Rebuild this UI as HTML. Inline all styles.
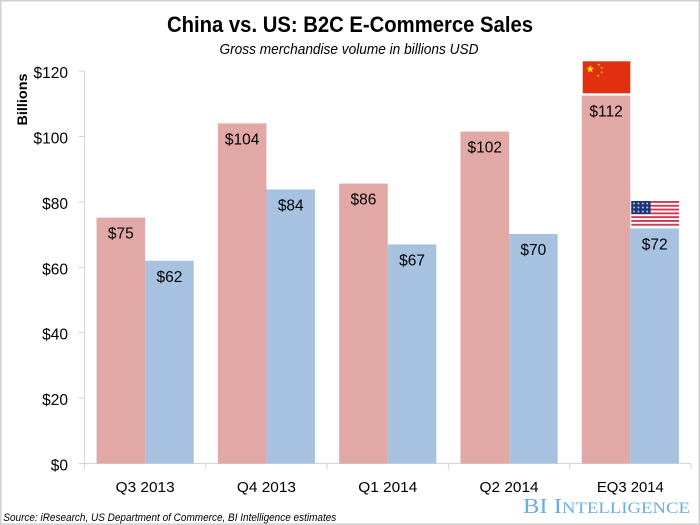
<!DOCTYPE html>
<html>
<head>
<meta charset="utf-8">
<style>
html,body{margin:0;padding:0;background:#fff;width:700px;height:525px;overflow:hidden}
svg{display:block;font-family:"Liberation Sans",sans-serif}
</style>
</head>
<body>
<svg id="chart" xmlns="http://www.w3.org/2000/svg" width="700" height="525" viewBox="0 0 700 525">
<rect x="0.75" y="0.75" width="698.5" height="523.4" fill="#fff" stroke="#d0d0d0" stroke-width="1.5"/>
<text x="350" y="32" text-anchor="middle" font-size="22" font-weight="bold" textLength="366" lengthAdjust="spacingAndGlyphs" fill="#000">China vs. US: B2C E-Commerce Sales</text>
<text x="349" y="54" text-anchor="middle" font-size="15" font-style="italic" textLength="259" lengthAdjust="spacingAndGlyphs" fill="#000">Gross merchandise volume in billions USD</text>
<text transform="translate(27,99.5) rotate(-90)" text-anchor="middle" font-size="14" font-weight="bold" textLength="52" lengthAdjust="spacingAndGlyphs" fill="#000">Billions</text>
<g id="plot"></g>
<g id="flag-china">
  <rect x="582.7" y="61.3" width="47.6" height="32" fill="#e0300f"/>
  <polygon points="590.3,65 591.3,67.8 594.2,67.9 591.9,69.7 592.7,72.5 590.3,70.9 587.9,72.5 588.7,69.7 586.4,67.9 589.3,67.8" fill="#ffdf00"/>
  <circle cx="598.7" cy="64.7" r="0.9" fill="#ffdf00"/>
  <circle cx="601.7" cy="68" r="0.9" fill="#ffdf00"/>
  <circle cx="601.7" cy="72.3" r="0.9" fill="#ffdf00"/>
  <circle cx="598.3" cy="75.7" r="0.9" fill="#ffdf00"/>
</g>
<g id="flag-us"></g>
<text x="3.3" y="521" font-size="11" font-style="italic" textLength="333" lengthAdjust="spacingAndGlyphs" fill="#000">Source: iResearch, US Department of Commerce, BI Intelligence estimates</text>
<text x="523" y="513" font-family="'Liberation Serif',serif" font-size="21" textLength="167" lengthAdjust="spacingAndGlyphs" fill="#6aaee0">BI I<tspan font-size="16">NTELLIGENCE</tspan></text>
</svg>
<script>
const categories = ["Q3 2013", "Q4 2013", "Q1 2014", "Q2 2014", "EQ3 2014"];
const chinaValues = [75.2, 104, 85.6, 101.5, 112.5];
const usValues = [62, 83.8, 67, 70.2, 71.9];
const chinaLabels = ["$75", "$104", "$86", "$102", "$112"];
const usLabels = ["$62", "$84", "$67", "$70", "$72"];
const yTicks = [0, 20, 40, 60, 80, 100, 120];

const NS = "http://www.w3.org/2000/svg";
const plot = document.getElementById("plot");
const x0 = 84.5, catW = 121.3, y0 = 463.5, yScale = 3.27, barW = 48.6;
const yPos = v => y0 - v * yScale;
const catX = i => x0 + i * catW;

function make(tag, attrs, text) {
  const el = document.createElementNS(NS, tag);
  for (const k in attrs) el.setAttribute(k, attrs[k]);
  if (text !== undefined) el.textContent = text;
  return el;
}

const axisY = make("line", {x1: x0, x2: x0, y1: yPos(120), y2: y0, stroke: "#d4d4d4", "stroke-width": 1});


plot.appendChild(axisY);
const axisX = make("line", {x1: x0 - 6, x2: catX(5), y1: y0, y2: y0, stroke: "#d4d4d4", "stroke-width": 1});


plot.appendChild(axisX);

yTicks.forEach(t => {
  const tick = make("line", {x1: x0 - 6, x2: x0, y1: yPos(t), y2: yPos(t), stroke: "#d4d4d4", "stroke-width": 1});
  
  
  plot.appendChild(tick);
  const label = make("text", {x: 68, y: yPos(t) + 7, "text-anchor": "end", "font-size": 15.5, fill: "#000"}, "$" + t);
  
  
  plot.appendChild(label);
});

categories.forEach((c, i) => {
  const left = catX(i) + (catW - 2 * barW) / 2;
  const tick = make("line", {x1: catX(i + 1), x2: catX(i + 1), y1: y0, y2: y0 + 6, stroke: "#d4d4d4", "stroke-width": 1});
  
  
  plot.appendChild(tick);

  const chinaBar = make("rect", {x: left, y: yPos(chinaValues[i]), width: barW, height: y0 - yPos(chinaValues[i]), fill: "#e2a8a6"});
  
  
  plot.appendChild(chinaBar);

  const usBar = make("rect", {x: left + barW, y: yPos(usValues[i]), width: barW, height: y0 - yPos(usValues[i]), fill: "#a6c2e0"});
  
  
  plot.appendChild(usBar);

  const chinaText = make("text", {x: left + barW / 2, y: yPos(chinaValues[i]) + 21, "text-anchor": "middle", "font-size": 15.5, fill: "#000"}, chinaLabels[i]);
  
  
  plot.appendChild(chinaText);

  const usText = make("text", {x: left + barW * 1.5, y: yPos(usValues[i]) + 21, "text-anchor": "middle", "font-size": 15.5, fill: "#000"}, usLabels[i]);
  
  
  plot.appendChild(usText);

  const catLabel = make("text", {x: catX(i) + catW / 2, y: 492, "text-anchor": "middle", "font-size": 15, fill: "#000", textLength: c.length > 7 ? 67 : 59, lengthAdjust: "spacingAndGlyphs"}, c);
  
  
  plot.appendChild(catLabel);
});

const firstTick = make("line", {x1: x0, x2: x0, y1: y0, y2: y0 + 6, stroke: "#d4d4d4", "stroke-width": 1});


plot.appendChild(firstTick);

const flag = document.getElementById("flag-us");
for (let s = 0; s < 7; s++) {
  const stripe = make("rect", {x: 631.3, y: 201 + s * 3.8, width: 47.7, height: 1.9, fill: "#cf3a52"});
  
  
  flag.appendChild(stripe);
}
const canton = make("rect", {x: 631.3, y: 201, width: 19.3, height: 13, fill: "#1c3578"});


flag.appendChild(canton);
for (let r = 0; r < 3; r++) {
  for (let k = 0; k < 4; k++) {
    const star = make("circle", {cx: 634 + k * 4.4, cy: 203.5 + r * 4, r: 1, fill: "#b9c4dc"});
    
    
    flag.appendChild(star);
  }
}
</script>
</body>
</html>
